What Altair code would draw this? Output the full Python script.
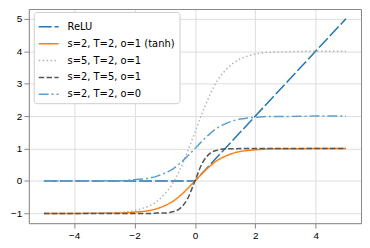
import altair as alt
import pandas as pd

series = ["ReLU", "s=2, T=2, o=1 (tanh)", "s=5, T=2, o=1", "s=2, T=5, o=1", "s=2, T=2, o=0"]
colors = ["#1f77b4", "#ff7f0e", "#b3b3b3", "#555555", "#5e9fd0"]
dashes = [[13, 3], [1, 0], [1.5, 2.5], [5.5, 2.4], [10, 3, 2, 3]]

relu_x = [-5, 0, 5]
relu_y = [0, 0, 5]

xs = [-5, -4, -3, -2.5, -2, -1.75, -1.5, -1.25, -1, -0.75, -0.5, -0.25, 0,
      0.25, 0.5, 0.75, 1, 1.25, 1.5, 1.75, 2, 2.5, 3, 4, 5]
tanh_y = [-1.00, -1.00, -0.99, -0.99, -0.96, -0.94, -0.91, -0.85, -0.76, -0.64, -0.46, -0.24, 0.00,
          0.24, 0.46, 0.64, 0.76, 0.85, 0.91, 0.94, 0.96, 0.99, 0.99, 1.00, 1.00]
s5_y = [-1.00, -1.00, -0.98, -0.97, -0.91, -0.85, -0.76, -0.62, -0.40, -0.10, 0.34, 0.89, 1.50,
        2.11, 2.66, 3.10, 3.40, 3.62, 3.76, 3.85, 3.91, 3.97, 3.98, 4.00, 4.00]
t5_y = [-1.00, -1.00, -1.00, -1.00, -1.00, -1.00, -1.00, -0.99, -0.99, -0.95, -0.85, -0.56, 0.00,
        0.56, 0.85, 0.95, 0.99, 0.99, 1.00, 1.00, 1.00, 1.00, 1.00, 1.00, 1.00]
o0_y = [0.00, 0.00, 0.01, 0.01, 0.04, 0.06, 0.09, 0.15, 0.24, 0.36, 0.54, 0.76, 1.00,
        1.24, 1.46, 1.64, 1.76, 1.85, 1.91, 1.94, 1.96, 1.99, 1.99, 2.00, 2.00]

x_ticks = [-4, -2, 0, 2, 4]
y_ticks = [-1, 0, 1, 2, 3, 4, 5]

rows = []
for x, y in zip(relu_x, relu_y):
    rows.append({"x": x, "y": y, "s": series[0]})
for name, ys in zip(series[1:], [tanh_y, s5_y, t5_y, o0_y]):
    for x, y in zip(xs, ys):
        rows.append({"x": x, "y": y, "s": name})
df = pd.DataFrame(rows)

lab = "replace(format(datum.value, 'd'), '-', '\u2212')"
xscale = alt.Scale(domain=[-5.5, 5.5], nice=False, zero=False)
yscale = alt.Scale(domain=[-1.3, 5.3], nice=False, zero=False)

cenc = alt.Color("s:N", scale=alt.Scale(domain=series, range=colors),
                 legend=alt.Legend(title=None, orient="none", legendX=5, legendY=3,
                                   symbolType="stroke", symbolSize=400, symbolStrokeWidth=1.5,
                                   labelFontSize=10, labelFont="DejaVu Sans", labelColor="black",
                                   labelOffset=8, rowPadding=1, padding=4,
                                   strokeColor="#cccccc", fillColor="white", cornerRadius=3))
denc = alt.StrokeDash("s:N", scale=alt.Scale(domain=series, range=dashes), legend=None)

layers = []
for i, name in enumerate(series):
    interp = "linear" if name == "ReLU" else "monotone"
    if i == 0:
        xenc = alt.X("x:Q", scale=xscale, axis=alt.Axis(values=x_ticks, labelExpr=lab, title=None))
        yenc = alt.Y("y:Q", scale=yscale, axis=alt.Axis(values=y_ticks, labelExpr=lab, title=None))
    else:
        xenc = alt.X("x:Q", scale=xscale, axis=None)
        yenc = alt.Y("y:Q", scale=yscale, axis=None)
    layers.append(
        alt.Chart(df).transform_filter(alt.datum.s == name)
        .mark_line(strokeWidth=1.5, interpolate=interp, clip=True)
        .encode(x=xenc, y=yenc, color=cenc, strokeDash=denc)
    )

frame = alt.Chart(df).transform_filter(alt.datum.s == series[0]).mark_line(opacity=0).encode(
    x=alt.X("x:Q", scale=xscale, axis=alt.Axis(orient="top", labels=False, ticks=False, title=None)),
    y=alt.Y("y:Q", scale=yscale, axis=alt.Axis(orient="right", labels=False, ticks=False, title=None)),
)

chart = alt.layer(*layers, frame).resolve_axis(x="independent", y="independent").properties(
    width=335, height=216,
    autosize=alt.AutoSizeParams(type="none"),
    padding={"left": 21, "top": 0, "right": 1, "bottom": 20},
).configure_view(stroke=None).configure_axis(
    domain=True, domainColor="black", domainWidth=1, grid=False,
    tickColor="black", tickSize=3.5, tickWidth=1,
    labelFont="DejaVu Sans", labelFontSize=10, labelColor="black", labelPadding=2,
).configure(background="white")

chart.save("out.html", embed_options={"renderer": "svg", "actions": False})
